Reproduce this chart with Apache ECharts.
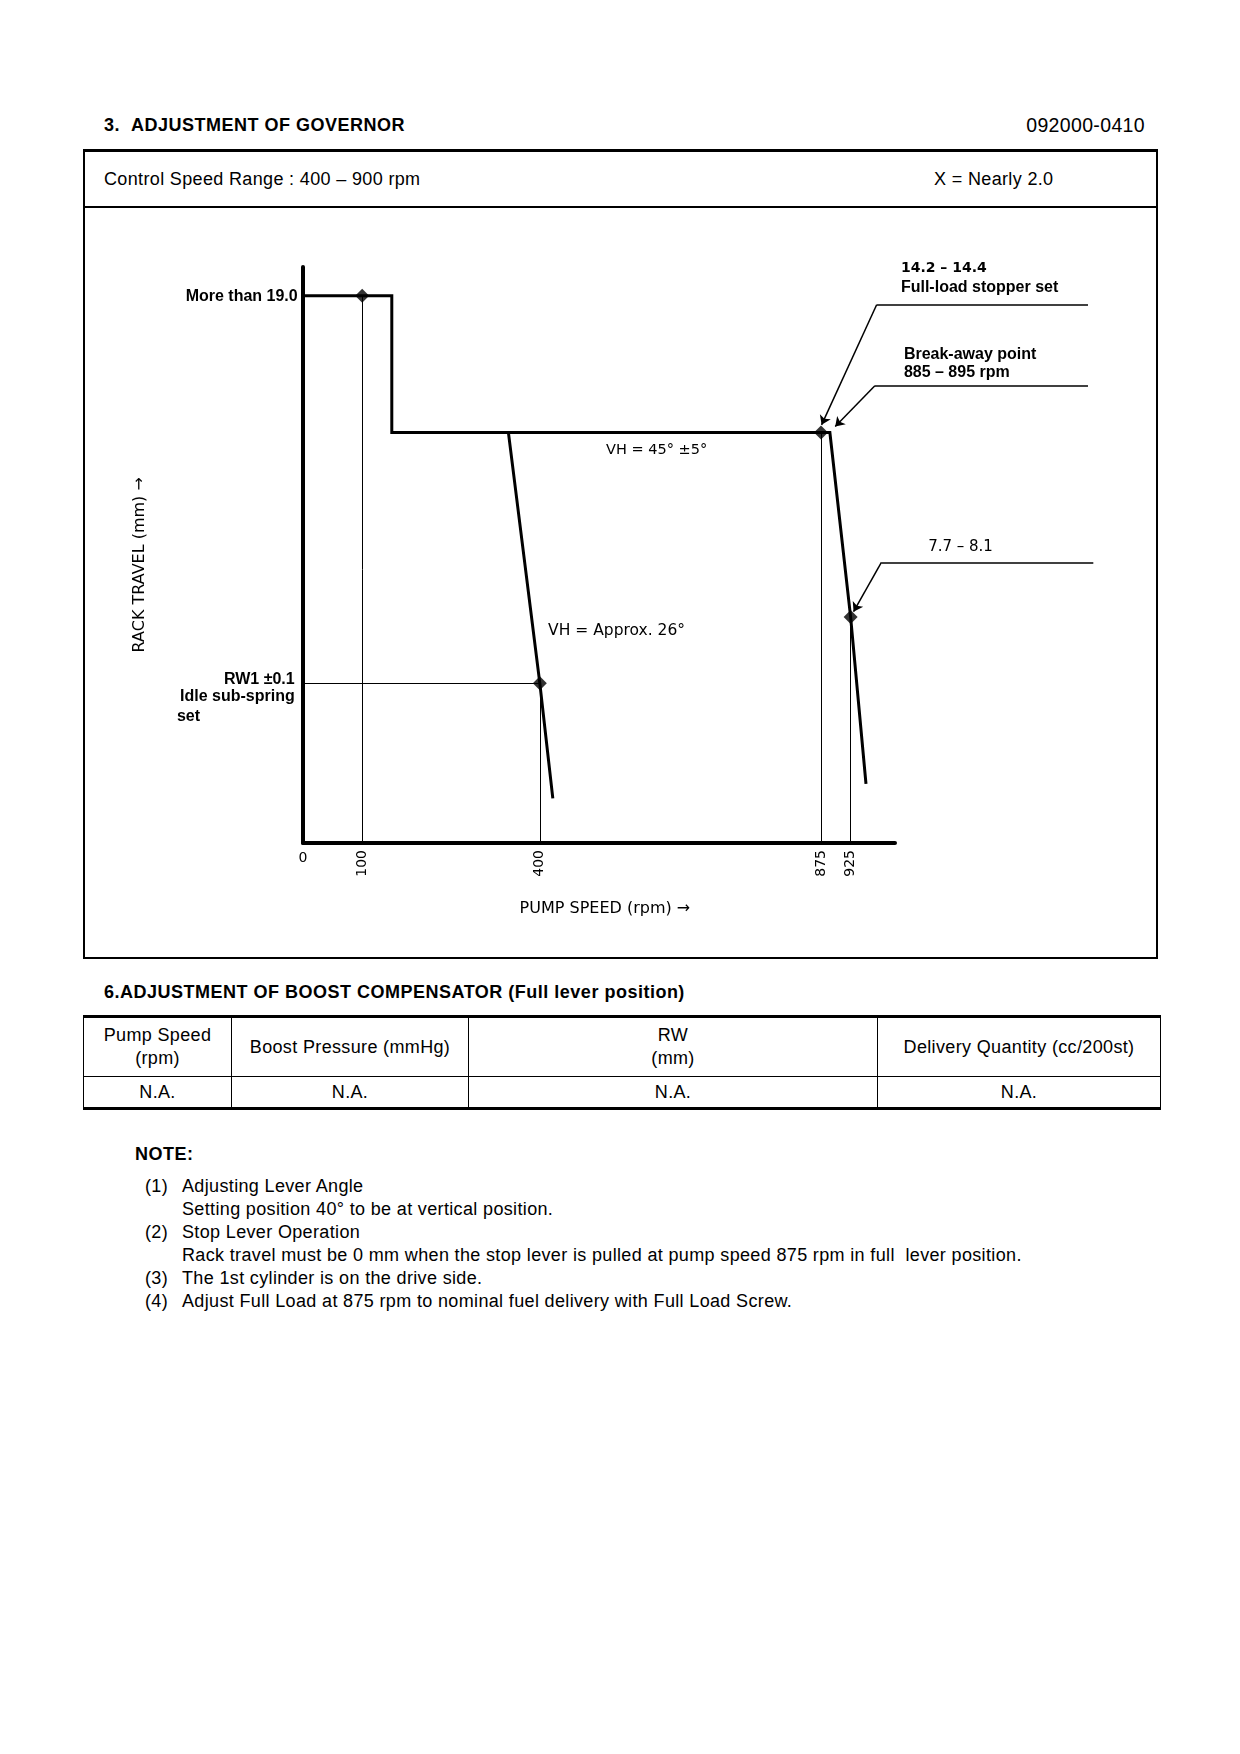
<!DOCTYPE html>
<html>
<head>
<meta charset="utf-8">
<title>3. Adjustment of Governor - 092000-0410</title>
<script src="https://cdn.jsdelivr.net/npm/echarts@6/dist/echarts.min.js"></script>
<style>
  body { margin: 0; background: #fff; color: #000; font-family: "Liberation Sans", Arial, sans-serif; }
  .page { position: relative; width: 1240px; height: 1754px; overflow: hidden; }
  .t { position: absolute; font-size: 18px; letter-spacing: 0.35px; line-height: 22px; white-space: nowrap; }
  .b { font-weight: bold; letter-spacing: 0.5px; }
  .box { position: absolute; left: 83px; top: 149px; width: 1071px; height: 805px; border: 2px solid #000; border-top-width: 3px; }
  .sep { position: absolute; left: 83px; top: 206px; width: 1075px; height: 0; border-top: 2px solid #000; }
  #chart { position: absolute; left: 83px; top: 207px; width: 1075px; height: 751px; }
  table.boost { position: absolute; left: 83px; top: 1015px; width: 1078px; border-collapse: collapse; font-size: 18px; letter-spacing: 0.35px; }
  table.boost td { border: 1.5px solid #000; text-align: center; padding: 0; line-height: 23px; }
  table.boost tr.head td { height: 58px; }
  table.boost tr.vals td { height: 30px; }
  table.boost { border-top: 3px solid #000; border-bottom: 3px solid #000; }
</style>
</head>
<body>
<div class="page">
  <div class="t b" style="left:104px; top:114px; font-size:18px;">3.&nbsp;&nbsp;ADJUSTMENT OF GOVERNOR</div>
  <div class="t" style="right:95px; top:114px; font-size:19.5px;">092000-0410</div>

  <div class="box"></div>
  <div class="sep"></div>
  <div class="t" style="left:104px; top:168px;">Control Speed Range : 400 – 900 rpm</div>
  <div class="t" style="left:934px; top:168px;">X = Nearly 2.0</div>
  <div id="chart"></div>

  <div class="t b" style="left:104px; top:981px; font-size:18px;">6.ADJUSTMENT OF BOOST COMPENSATOR (Full lever position)</div>
  <table class="boost">
    <tr class="head">
      <td style="width:147px;">Pump Speed<br>(rpm)</td>
      <td style="width:236px;">Boost Pressure (mmHg)</td>
      <td style="width:408px;">RW<br>(mm)</td>
      <td>Delivery Quantity (cc/200st)</td>
    </tr>
    <tr class="vals">
      <td>N.A.</td><td>N.A.</td><td>N.A.</td><td>N.A.</td>
    </tr>
  </table>

  <div class="t b" style="left:135px; top:1143px;">NOTE:</div>
  <div class="t" style="left:145px; top:1175px;">(1)</div>
  <div class="t" style="left:182px; top:1175px;">Adjusting Lever Angle</div>
  <div class="t" style="left:182px; top:1198px;">Setting position 40° to be at vertical position.</div>
  <div class="t" style="left:145px; top:1221px;">(2)</div>
  <div class="t" style="left:182px; top:1221px;">Stop Lever Operation</div>
  <div class="t" style="left:182px; top:1244px;">Rack travel must be 0 mm when the stop lever is pulled at pump speed 875 rpm in full&nbsp; lever position.</div>
  <div class="t" style="left:145px; top:1267px;">(3)</div>
  <div class="t" style="left:182px; top:1267px;">The 1st cylinder is on the drive side.</div>
  <div class="t" style="left:145px; top:1290px;">(4)</div>
  <div class="t" style="left:182px; top:1290px;">Adjust Full Load at 875 rpm to nominal fuel delivery with Full Load Screw.</div>
</div>

<script>
  // pump speed (rpm) against rack travel (mm)
  var speedTicks = [100, 400, 875, 925];

  // full lever curve
  var fullSpeed = [0, 150, 150, 890, 925, 951];
  var fullRack = [19.0, 19.0, 14.25, 14.25, 7.85, 2.05];

  // idle lever curve
  var idleSpeed = [347, 400, 422];
  var idleRack = [14.25, 5.55, 1.55];

  // set points (diamonds)
  var checkSpeed = [100, 400, 875, 925];
  var checkRack = [19.0, 5.55, 14.25, 7.85];

  // callout leaders: shelf end, knee, arrow tip
  var calloutEndSpeed = [1326, 1326, 1335];
  var calloutKneeSpeed = [969, 966, 977];
  var calloutKneeRack = [18.69, 15.88, 9.74];
  var calloutTipSpeed = [876, 899, 930];
  var calloutTipRack = [14.52, 14.46, 8.03];

  function pairs(xs, ys) {
    return xs.map(function (x, i) { return [x, ys[i]]; });
  }

  var chart = echarts.init(document.getElementById('chart'));

  var guides = checkSpeed.map(function (s, i) {
    return {coords: [[s, checkRack[i]], [s, 0]]};
  });
  guides.push({coords: [[0, checkRack[1]], [checkSpeed[1], checkRack[1]]]});

  var leaders = [];
  calloutKneeSpeed.forEach(function (k, i) {
    leaders.push({coords: [[calloutEndSpeed[i], calloutKneeRack[i]], [k, calloutKneeRack[i]]], symbol: ['none', 'none']});
    leaders.push({coords: [[k, calloutKneeRack[i]], [calloutTipSpeed[i], calloutTipRack[i]]], symbol: ['none', 'arrow']});
  });

  var option = {
    animation: false,
    grid: {left: 220, top: 60, width: 592, height: 576},
    xAxis: {
      type: 'value', min: 0, max: 1000,
      axisLine: {lineStyle: {color: '#000', width: 4}},
      axisTick: {show: false},
      splitLine: {show: false},
      axisLabel: {customValues: speedTicks, rotate: 90, margin: 7, fontFamily: 'DejaVu Sans', fontSize: 14, color: '#000'}
    },
    yAxis: {
      type: 'value', min: 0, max: 20,
      axisLine: {show: true, lineStyle: {color: '#000', width: 4}},
      axisTick: {show: false},
      axisLabel: {show: false},
      splitLine: {show: false}
    },
    series: [
      {
        type: 'lines', coordinateSystem: 'cartesian2d', clip: false, silent: true,
        lineStyle: {color: '#000', width: 1, opacity: 1},
        data: guides
      },
      {
        type: 'line', data: pairs(fullSpeed, fullRack), showSymbol: false, silent: true,
        lineStyle: {color: '#000', width: 3, join: 'miter'}
      },
      {
        type: 'line', data: pairs(idleSpeed, idleRack), showSymbol: false, silent: true,
        lineStyle: {color: '#000', width: 3}
      },
      {
        type: 'scatter', data: pairs(checkSpeed, checkRack), symbol: 'diamond', symbolSize: 14,
        itemStyle: {color: '#000'}, silent: true
      },
      {
        type: 'lines', coordinateSystem: 'cartesian2d', clip: false, silent: true,
        symbolSize: 9,
        lineStyle: {color: '#000', width: 1.5, opacity: 1},
        data: leaders
      }
    ]
  };
  chart.setOption(option);

  // text notes placed at speed / rack positions
  var notes = [
    {text: '0', at: [0, -0.52], align: 'center', font: '14px "DejaVu Sans"'},
    {text: 'PUMP SPEED (rpm) →', at: [510, -2.29], align: 'center', font: '16px "DejaVu Sans"'},
    {text: 'RACK TRAVEL (mm) →', at: [-275, 9.66], align: 'center', font: '16px "DejaVu Sans"', rotate: true},
    {text: 'More than 19.0', at: [-9, 18.97], align: 'right', font: 'bold 16px "Liberation Sans"'},
    {text: 'RW1 ±0.1', at: [-14, 5.66], align: 'right', font: 'bold 16px "Liberation Sans"'},
    {text: 'Idle sub-spring', at: [-14, 5.07], align: 'right', font: 'bold 16px "Liberation Sans"'},
    {text: 'set', at: [-213, 4.38], align: 'left', font: 'bold 16px "Liberation Sans"'},
    {text: '14.2 – 14.4', at: [1010, 19.97], align: 'left', font: 'bold 14px "DejaVu Sans"'},
    {text: 'Full-load stopper set', at: [1010, 19.28], align: 'left', font: 'bold 16px "Liberation Sans"'},
    {text: 'Break-away point', at: [1015, 16.95], align: 'left', font: 'bold 16px "Liberation Sans"'},
    {text: '885 – 895 rpm', at: [1015, 16.33], align: 'left', font: 'bold 16px "Liberation Sans"'},
    {text: '7.7 – 8.1', at: [1056, 10.28], align: 'left', font: '15px "DejaVu Sans"'},
    {text: 'VH = 45° ±5°', at: [512, 13.65], align: 'left', font: '14.5px "DejaVu Sans"'},
    {text: 'VH = Approx. 26°', at: [414, 7.36], align: 'left', font: '15.5px "DejaVu Sans"'}
  ];

  chart.setOption({
    graphic: notes.map(function (n) {
      var p = chart.convertToPixel({gridIndex: 0}, n.at);
      return {
        type: 'text', x: p[0], y: p[1], rotation: n.rotate ? Math.PI / 2 : 0, silent: true,
        style: {text: n.text, font: n.font, fill: '#000', align: n.align, verticalAlign: 'middle'}
      };
    })
  });
</script>
</body>
</html>
